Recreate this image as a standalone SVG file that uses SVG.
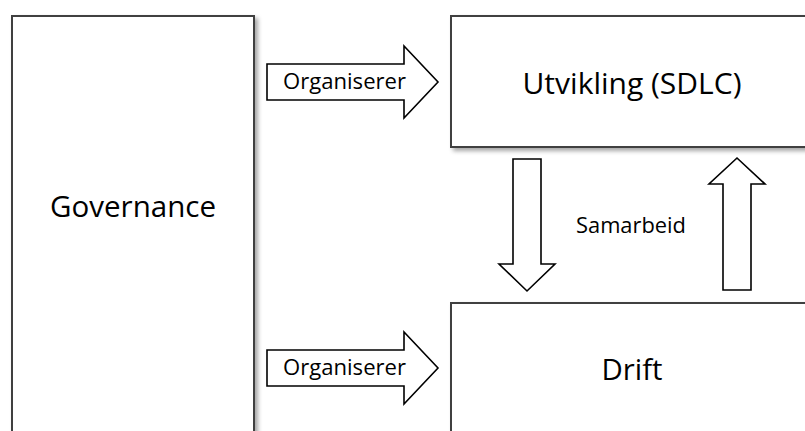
<svg xmlns="http://www.w3.org/2000/svg" width="805" height="431" viewBox="0 0 805 431">
<defs>
<filter id="sh" x="-10%" y="-10%" width="130%" height="130%">
<feDropShadow dx="3" dy="3" stdDeviation="2" flood-color="#000" flood-opacity="0.35"/>
</filter>
<style>
.box{fill:#fff;stroke:#3f3f3f;stroke-width:2;filter:url(#sh)}
.arr{fill:#fff;stroke:#000;stroke-width:1.6;stroke-linejoin:miter}
.big{font-family:"Open Sans","Noto Sans",sans-serif;font-size:29px;fill:#000;text-anchor:middle}
.sm{font-family:"Open Sans","Noto Sans",sans-serif;font-size:21px;fill:#000;text-anchor:middle}
</style>
</defs>
<rect width="805" height="431" fill="#fff"/>
<g id="governance">
<rect class="box" x="12" y="16" width="242" height="430"/>
<text class="big" x="133" y="217" textLength="166" lengthAdjust="spacingAndGlyphs">Governance</text>
</g>
<g id="utvikling">
<rect class="box" x="451" y="16" width="370" height="131"/>
<text class="big" x="632" y="94" textLength="219" lengthAdjust="spacingAndGlyphs">Utvikling (SDLC)</text>
</g>
<g id="drift">
<rect class="box" x="451" y="303" width="370" height="140"/>
<text class="big" x="632" y="380" textLength="61" lengthAdjust="spacingAndGlyphs">Drift</text>
</g>
<g id="connectors">
<g id="arrow-top">
<path class="arr" d="M267,64 H404 V46 L438,82 L404,118 V100 H267 Z"/>
<text class="sm" x="344.5" y="89" textLength="123" lengthAdjust="spacingAndGlyphs">Organiserer</text>
</g>
<g id="arrow-bottom">
<path class="arr" d="M267,350 H404 V332 L438,368 L404,404 V386 H267 Z"/>
<text class="sm" x="344.5" y="375" textLength="123" lengthAdjust="spacingAndGlyphs">Organiserer</text>
</g>
<path id="arrow-down" class="arr" d="M513,159 H541 V264 H555 L527,291 L499,264 H513 Z"/>
<path id="arrow-up" class="arr" d="M723,290 V184 H709 L737,158 L765,184 H751 V290 Z"/>
<text class="sm" x="631" y="233" textLength="110" lengthAdjust="spacingAndGlyphs">Samarbeid</text>
</g>
</svg>
